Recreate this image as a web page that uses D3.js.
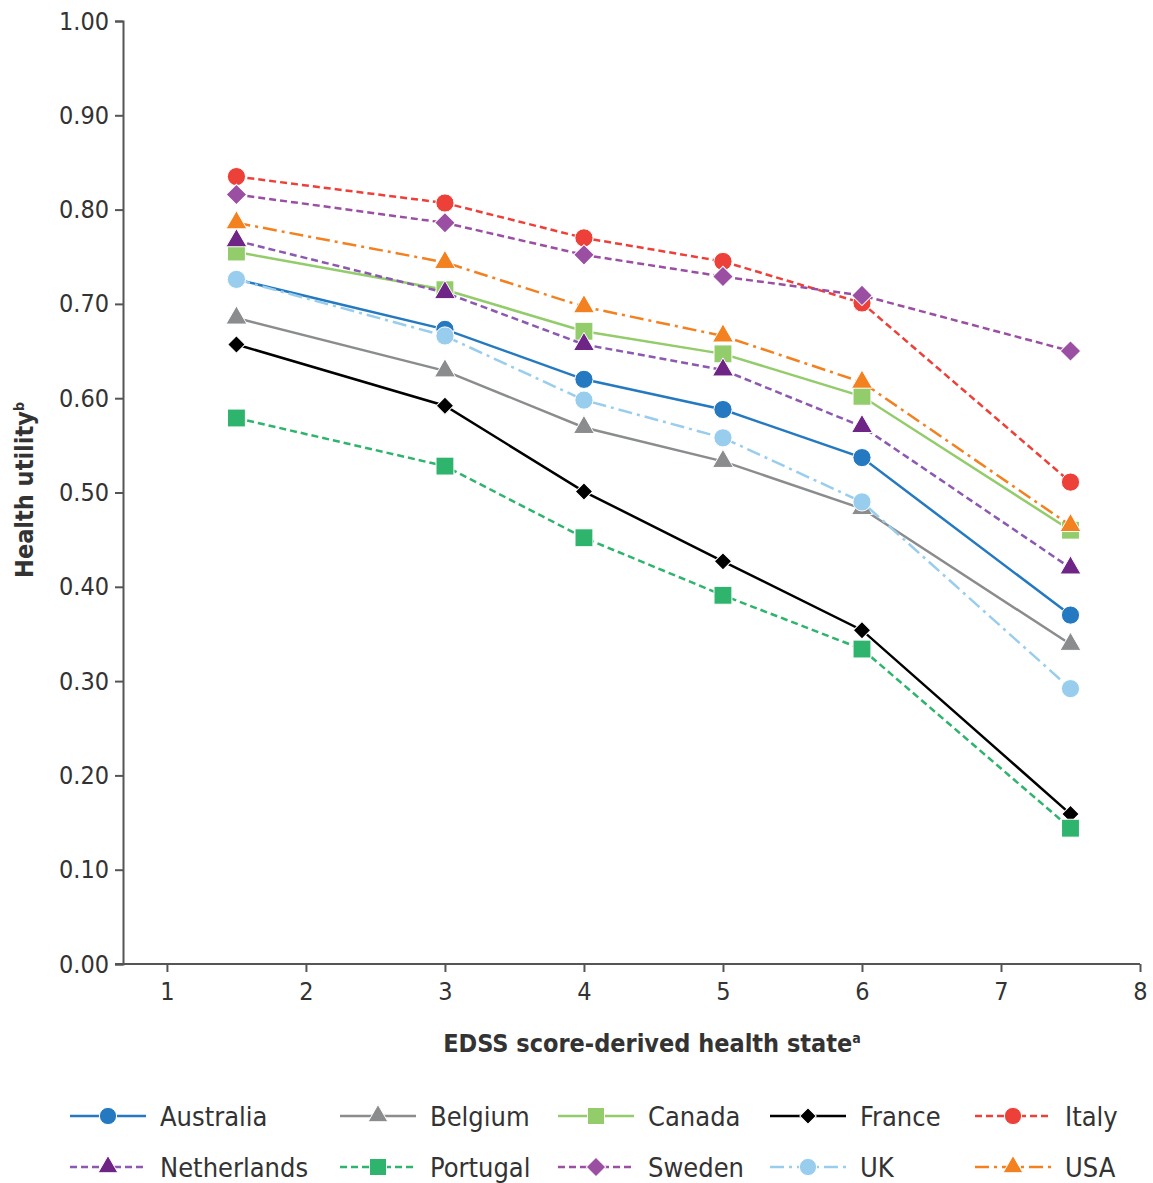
<!DOCTYPE html>
<html>
<head>
<meta charset="utf-8">
<script src="https://cdn.jsdelivr.net/npm/d3@7"></script>
<style>
  body { margin: 0; background: #fff; }
  text { font-family: "Liberation Sans Narrow", "Arial Narrow", "DejaVu Sans Condensed", sans-serif; fill: #333; }
</style>
</head>
<body>
<script>
// EDSS score-derived health states (x values)
const edss = [1.5, 3, 4, 5, 6, 7.5];

const countries = ["Australia", "Belgium", "Canada", "France", "Italy",
                   "Netherlands", "Portugal", "Sweden", "UK", "USA"];

// health utility values
const australia   = [0.726, 0.673, 0.620, 0.588, 0.537, 0.370];
const belgium     = [0.685, 0.629, 0.569, 0.533, 0.483, 0.339];
const canada      = [0.755, 0.715, 0.671, 0.647, 0.602, 0.460];
const france      = [0.657, 0.592, 0.501, 0.427, 0.354, 0.159];
const italy       = [0.835, 0.807, 0.770, 0.745, 0.701, 0.511];
const netherlands = [0.767, 0.712, 0.657, 0.630, 0.570, 0.420];
const portugal    = [0.579, 0.528, 0.452, 0.391, 0.334, 0.144];
const sweden      = [0.816, 0.786, 0.752, 0.729, 0.709, 0.650];
const uk          = [0.726, 0.666, 0.598, 0.558, 0.490, 0.292];
const usa         = [0.786, 0.744, 0.697, 0.666, 0.617, 0.465];

const xTicks = [1, 2, 3, 4, 5, 6, 7, 8];
const yTicks = [0, 0.1, 0.2, 0.3, 0.4, 0.5, 0.6, 0.7, 0.8, 0.9, 1.0];

const values = [australia, belgium, canada, france, italy,
                netherlands, portugal, sweden, uk, usa];

// styling per series
const styles = {
    Australia:   {color: "#2479c1", line: "#2479c1", dash: null,          shape: "circle"},
    Belgium:     {color: "#8a8c8e", line: "#8a8c8e", dash: null,          shape: "triangle"},
    Canada:      {color: "#93cc6a", line: "#93cc6a", dash: null,          shape: "square"},
    France:      {color: "#000000", line: "#000000", dash: null,          shape: "diamondS"},
    Italy:       {color: "#ec4039", line: "#ec4039", dash: "7,4",         shape: "circle"},
    Netherlands: {color: "#6e2585", line: "#8c58b0", dash: "7,4",         shape: "triangle"},
    Portugal:    {color: "#2eb46c", line: "#2eb46c", dash: "7,4",         shape: "square"},
    Sweden:      {color: "#9b4fa3", line: "#9b4fa3", dash: "7,4",         shape: "diamond"},
    UK:          {color: "#98cdee", line: "#98cdee", dash: "14,5,3,5",    shape: "circle"},
    USA:         {color: "#f38120", line: "#f38120", dash: "14,5,3,5",    shape: "triangle"}
};

const series = countries.map((c, i) => ({
    name: c,
    points: edss.map((x, j) => ({x: x, y: values[i][j]}))
}));

const width = 1153;
const height = 1183;

const svg = d3.select("body").append("svg")
    .attr("width", width)
    .attr("height", height);

const xscale = d3.scaleLinear()
    .domain([0.684, 8])
    .range([123, 1140]);

const yscale = d3.scaleLinear()
    .domain([0, 1])
    .range([964, 21]);

function symbolPath(shape, legend) {
    const k = legend ? 0.9 : 1;
    if (shape === "circle") return d3.symbol(d3.symbolCircle, 260 * k)();
    if (shape === "square") return d3.symbol(d3.symbolSquare, 320 * k)();
    if (shape === "triangle") return d3.symbol(d3.symbolTriangle, 190 * k)();
    if (shape === "diamond") return d3.symbol(d3.symbolSquare, 210 * k)();
    if (shape === "diamondS") return d3.symbol(d3.symbolSquare, 150 * k)();
}
function symbolRotate(shape) {
    return (shape === "diamond" || shape === "diamondS") ? " rotate(45)" : "";
}

// axes
const xaxis = d3.axisBottom(xscale)
    .tickValues(xTicks)
    .tickSizeOuter(0)
    .tickSize(8)
    .tickPadding(10)
    .tickFormat(d3.format("d"));

const yaxis = d3.axisLeft(yscale)
    .tickValues(yTicks)
    .tickSizeOuter(0)
    .tickSize(8)
    .tickPadding(6)
    .tickFormat(d3.format(".2f"));

const gx = svg.append("g")
    .attr("transform", "translate(0," + 964 + ")")
    .call(xaxis);

const gy = svg.append("g")
    .attr("transform", "translate(" + 123 + ",0)")
    .call(yaxis);

[gx, gy].forEach(g => {
    g.select(".domain").attr("stroke", "#555").attr("stroke-width", 2);
    g.selectAll(".tick line").attr("stroke", "#555").attr("stroke-width", 2);
    g.selectAll(".tick text")
        .attr("font-size", 25)
        .attr("fill", "#333")
        .style("font-family", "'Liberation Sans Narrow', 'Arial Narrow', 'DejaVu Sans Condensed', sans-serif");
});
// extend x axis line to meet the y axis
gx.select(".domain").attr("d", "M" + 115 + ",0H" + 1140);

// axis titles
const xt = svg.append("text")
    .attr("x", 652)
    .attr("y", 1052)
    .attr("text-anchor", "middle")
    .attr("font-size", 25)
    .attr("font-weight", "bold")
    .attr("fill", "#222");
xt.append("tspan").text("EDSS score-derived health state");
xt.append("tspan").attr("font-size", 14).attr("dy", -9).text("a");

const yt = svg.append("text")
    .attr("transform", "translate(" + 33 + "," + 490 + ") rotate(-90)")
    .attr("text-anchor", "middle")
    .attr("font-size", 25)
    .attr("font-weight", "bold")
    .attr("fill", "#222");
yt.append("tspan").text("Health utility");
yt.append("tspan").attr("font-size", 14).attr("dy", -9).text("b");

// lines
const line = d3.line()
    .x(d => xscale(d.x))
    .y(d => yscale(d.y));

const groups = svg.selectAll(".series")
    .data(series)
    .enter()
    .append("g")
    .attr("class", "series");

groups.append("path")
    .attr("d", d => line(d.points))
    .attr("fill", "none")
    .attr("stroke", d => styles[d.name].line)
    .attr("stroke-width", 2.5)
    .attr("stroke-dasharray", d => styles[d.name].dash);

groups.each(function(s) {
    const st = styles[s.name];
    d3.select(this).selectAll("path.mark")
        .data(s.points)
        .enter()
        .append("path")
        .attr("class", "mark")
        .attr("d", symbolPath(st.shape, false))
        .attr("transform", d => "translate(" + xscale(d.x) + "," + yscale(d.y) + ")" + symbolRotate(st.shape))
        .attr("fill", st.color)
        .attr("stroke", "#fff")
        .attr("stroke-width", 1);
});

// legend
const legendCols = [70, 340, 558, 770, 975];
const legendRows = [1116, 1167];
const legend = svg.append("g");

countries.forEach((c, i) => {
    const st = styles[c];
    const lx = legendCols[i % 5];
    const ly = legendRows[Math.floor(i / 5)];
    const g = legend.append("g").attr("transform", "translate(" + lx + "," + ly + ")");
    g.append("line")
        .attr("x1", 0).attr("x2", 76)
        .attr("y1", 0).attr("y2", 0)
        .attr("stroke", st.line)
        .attr("stroke-width", 2.5)
        .attr("stroke-dasharray", st.dash);
    g.append("path")
        .attr("d", symbolPath(st.shape, true))
        .attr("transform", "translate(38,0)" + symbolRotate(st.shape))
        .attr("fill", st.color)
        .attr("stroke", "#fff")
        .attr("stroke-width", 1);
    g.append("text")
        .attr("x", 90)
        .attr("y", 10)
        .attr("font-size", 27)
        .attr("fill", "#333")
        .text(c);
});
</script>
</body>
</html>
